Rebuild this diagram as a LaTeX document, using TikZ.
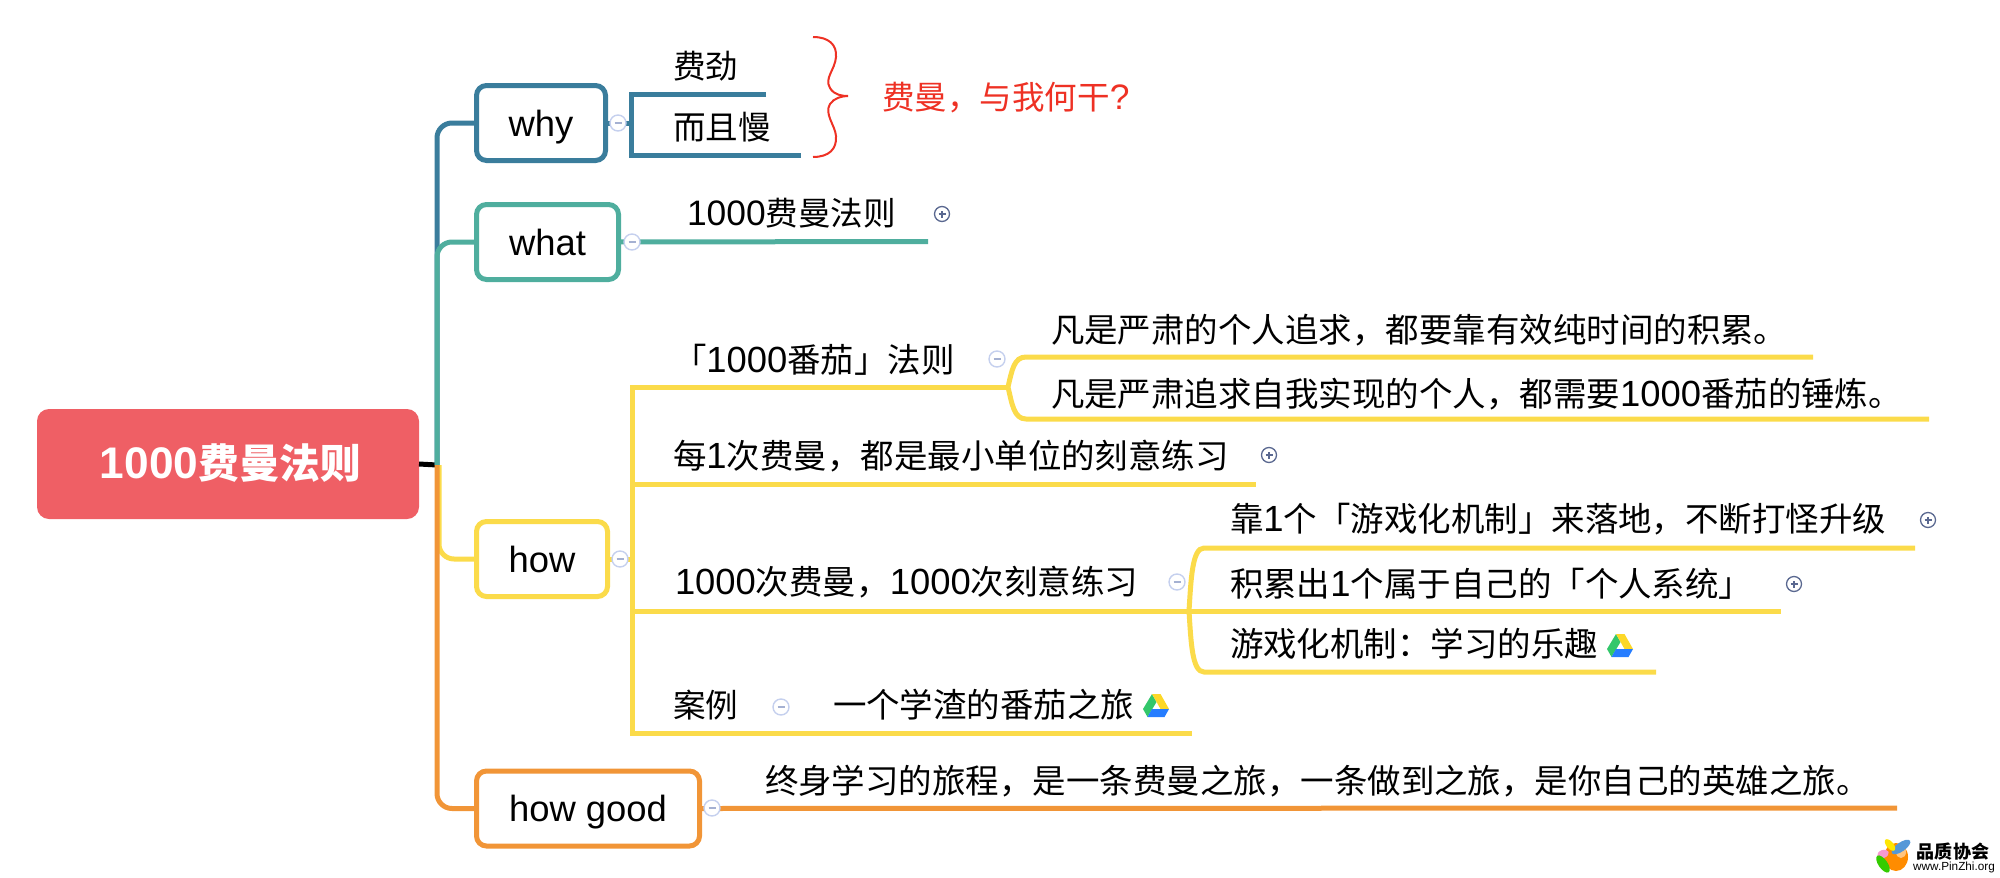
\documentclass[tikz,border=0pt]{standalone}
\usepackage{fontspec}
\setmainfont{Liberation Sans}[Scale=1.12]
\newfontfamily\cjk{Noto Sans CJK SC}[Scale=1.03]
\newcommand\zh[1]{{\cjk #1}}
\definecolor{cwhy}{HTML}{3A7D9C}
\definecolor{cwhat}{HTML}{4FAE9E}
\definecolor{chow}{HTML}{FBDB4A}
\definecolor{cgood}{HTML}{F19537}
\definecolor{croot}{HTML}{EF5F65}
\definecolor{cred}{HTML}{EE3124}
\definecolor{cminus}{HTML}{C5D0EE}
\definecolor{cplus}{HTML}{5A6890}
\tikzset{
  rootbox/.style={rectangle,rounded corners=12pt,fill=croot,text=white,font=\fontsize{39.5}{42}\selectfont\bfseries,
    minimum width=382pt,minimum height=110pt,inner sep=0pt,outer sep=0pt,text height=32pt,text depth=4pt},
  topicbox/.style={rectangle,rounded corners=10pt,draw=#1,line width=5pt,fill=white,inner sep=0pt,outer sep=0pt,
    font=\fontsize{32.5}{36}\selectfont,text height=30pt,text depth=4pt,minimum height=75pt},
  lab/.style={anchor=base west,inner sep=0pt,outer sep=0pt,font=\fontsize{32.5}{36}\selectfont,text=black},
  labsmall/.style={lab,font=\fontsize{31.6}{36}\selectfont},
  branch/.style={line width=5pt,draw=#1},
  bend/.style={line width=5pt,draw=#1,rounded corners=15pt},
  iconminus/.style={circle,draw=cminus,fill=white,line width=1.4pt,minimum size=16pt,inner sep=0pt},
  iconplus/.style={circle,draw=cplus,fill=white,line width=1.3pt,minimum size=15pt,inner sep=0pt},
}
\newcommand\minusicon[3]{\node[iconminus] (#1) at (#2,#3) {};
  \draw[cminus!70!cplus,line width=1.3pt] ([xshift=-3.5pt]#1.center) -- ([xshift=3.5pt]#1.center);}
\newcommand\plusicon[3]{\node[iconplus] (#1) at (#2,#3) {};
  \draw[cplus,line width=1.3pt] ([xshift=-3.5pt]#1.center) -- ([xshift=3.5pt]#1.center)
    ([yshift=-3.5pt]#1.center) -- ([yshift=3.5pt]#1.center);}
\newcommand\driveicon[2]{\begin{scope}[shift={(#1,#2)}]
  \fill[green!45!teal!80!white] (9,0) -- (0,15) -- (4.5,23) -- (13.5,8) -- cycle;
  \fill[yellow!70!orange!85!white] (9,0) -- (17.5,0) -- (26,15) -- (17.5,15) -- cycle;
  \fill[blue!60!cyan!85!white] (9,15) -- (26,15) -- (21.5,23) -- (4.5,23) -- cycle;
\end{scope}}
\begin{document}
\begin{tikzpicture}[x=1pt,y=-1pt]
\useasboundingbox (0,0) rectangle (2000,878);
% coordinates for free ends
\coordinate (trunk) at (437,465);
\coordinate (trunkh) at (439,465);
\coordinate (whyT) at (631,94);
\coordinate (whyTe) at (766,94);
\coordinate (whyB) at (631,155);
\coordinate (whyBe) at (801,155);
\coordinate (whyM) at (631,123);
\coordinate (whatE) at (928,241.5);
\coordinate (howM) at (632,559);
\coordinate (howT) at (632,387);
\coordinate (howB) at (632,733);
\coordinate (j1) at (1008,387);
\coordinate (j1a) at (1813,357);
\coordinate (j1b) at (1929,419);
\coordinate (l2a) at (632,484);
\coordinate (l2b) at (1256,484);
\coordinate (l3a) at (632,611);
\coordinate (j3) at (1189,611);
\coordinate (j3a) at (1915,548);
\coordinate (j3b) at (1781,611);
\coordinate (j3c) at (1656,672);
\coordinate (l4e) at (1192,733);
\coordinate (goodE) at (1897,808);

% boxes
\node[rootbox] (root) at (228,464) {\hspace*{5pt}1000\zh{费曼法则}};

% main connectors
\draw[line width=5pt,black] (root.east) -- (trunk);
\node[topicbox=cwhy,minimum width=129pt] (why) at (541,123) {why};
\node[topicbox=cwhat,minimum width=142pt] (what) at (547.5,242) {what};
\node[topicbox=chow,minimum width=131pt] (how) at (542,559) {how};
\node[topicbox=cgood,minimum width=223pt,minimum height=75pt] (good) at (588,808.5) {how good};

\draw[bend=cwhy] (why.west) -| (trunk);
\draw[bend=cwhat] (what.west) -| (trunk);
\draw[bend=chow] (how.west) -| (trunkh);
\draw[bend=cgood] (good.west) -| (trunk);

% why
\draw[branch=cwhy,miter limit=10] (whyTe) -- (whyT) -- (whyB) -- (whyBe);
\draw[branch=cwhy] (why.east) -- (whyM);
\node[labsmall] (t1) at (673,78) {\zh{费劲}};
\node[labsmall] (t2) at (673,139) {\zh{而且慢}};
\draw[cred,line width=2pt] (813,37) .. controls (829,37) and (837,45) .. (836,57)
   .. controls (835,70) and (824,78) .. (830,88) .. controls (834,95) and (842,96) .. (848,96)
   .. controls (842,96) and (834,98) .. (830,104) .. controls (824,114) and (835,125) .. (836,136)
   .. controls (837,149) and (829,157) .. (813,157);
\node[labsmall,text=cred] (t3) at (882,109) {\zh{费曼，与我何干}?};

% what
\draw[branch=cwhat] (what.east) -- (whatE);
\node[labsmall] (t4) at (687,225) {1000\zh{费曼法则}};

% how
\draw[branch=chow] (how.east) -- (howM);
\draw[branch=chow,miter limit=10] (j1) -- (howT) -- (howB) -- (l4e);
\draw[branch=chow] (l2a) -- (l2b);
\draw[branch=chow] (l3a) -- (j3);
\draw[branch=chow] (j1a) -- (1026,357) .. controls (1014,357) and (1012,370) .. (j1)
  .. controls (1012,404) and (1014,419) .. (1026,419) -- (j1b);
\draw[branch=chow] (j3a) -- (1204,548) .. controls (1192,548) and (1191,580) .. (j3)
  .. controls (1191,642) and (1192,672) .. (1204,672) -- (j3c);
\draw[branch=chow] (j3) -- (j3b);

\node[lab] (t5) at (673,372) {\zh{「}1000\zh{番茄」法则}};
\node[lab] (t6) at (1051,342) {\zh{凡是严肃的个人追求，都要靠有效纯时间的积累。}};
\node[lab] (t7) at (1051,406) {\zh{凡是严肃追求自我实现的个人，都需要}1000\zh{番茄的锤炼。}};
\node[lab] (t8) at (673,468) {\zh{每}1\zh{次费曼，都是最小单位的刻意练习}};
\node[lab] (t9) at (675,594) {1000\zh{次费曼，}1000\zh{次刻意练习}};
\node[lab] (t10) at (1230,531) {\zh{靠}1\zh{个「游戏化机制」来落地，不断打怪升级}};
\node[lab] (t11) at (1230,596) {\zh{积累出}1\zh{个属于自己的「个人系统」}};
\node[lab] (t12) at (1230,656) {\zh{游戏化机制：学习的乐趣}};
\node[labsmall] (t13) at (673,717) {\zh{案例}};
\node[lab] (t14) at (833,717) {\zh{一个学渣的番茄之旅}};
\driveicon{1607}{634}
\driveicon{1143}{694}

% how good
\draw[branch=cgood] (good.east) -- (goodE);
\node[lab] (t15) at (765,793) {\zh{终身学习的旅程，是一条费曼之旅，一条做到之旅，是你自己的英雄之旅。}};

% icons
\minusicon{m1}{618}{123}
\minusicon{m2}{632}{242}
\minusicon{m3}{620}{559}
\minusicon{m4}{712}{808}
\minusicon{m5}{781}{707}
\minusicon{m6}{997}{359}
\minusicon{m7}{1177}{582}
\plusicon{p1}{942}{214}
\plusicon{p2}{1269}{455}
\plusicon{p3}{1928}{520}
\plusicon{p4}{1794}{584}

% logo
\begin{scope}
  \fill[orange!90!yellow] (1896,857) ellipse [x radius=12,y radius=14];
  \fill[white,opacity=.5] (1901,852) ellipse [x radius=5,y radius=6];
  \fill[cyan!60!blue!70!white,rotate around={35:(1901,847)}] (1901,847) ellipse [x radius=11,y radius=4.5];
  \fill[yellow!90!orange,rotate around={-50:(1890,845)}] (1890,845) ellipse [x radius=7,y radius=3.5];
  \fill[magenta!40!white,rotate around={20:(1883,854)}] (1883,854) ellipse [x radius=6,y radius=4];
  \fill[green!60!olive,rotate around={-55:(1883,864)}] (1883,864) ellipse [x radius=10,y radius=4.5];
\end{scope}
\node[inner sep=0pt,font=\fontsize{17.5}{20}\selectfont\bfseries] (logo1) at (1953,852) {\zh{品质协会}};
\node[inner sep=0pt,font=\fontsize{10.5}{12}\selectfont] (logo2) at (1954,867) {www.PinZhi.org};
\end{tikzpicture}
\end{document}
